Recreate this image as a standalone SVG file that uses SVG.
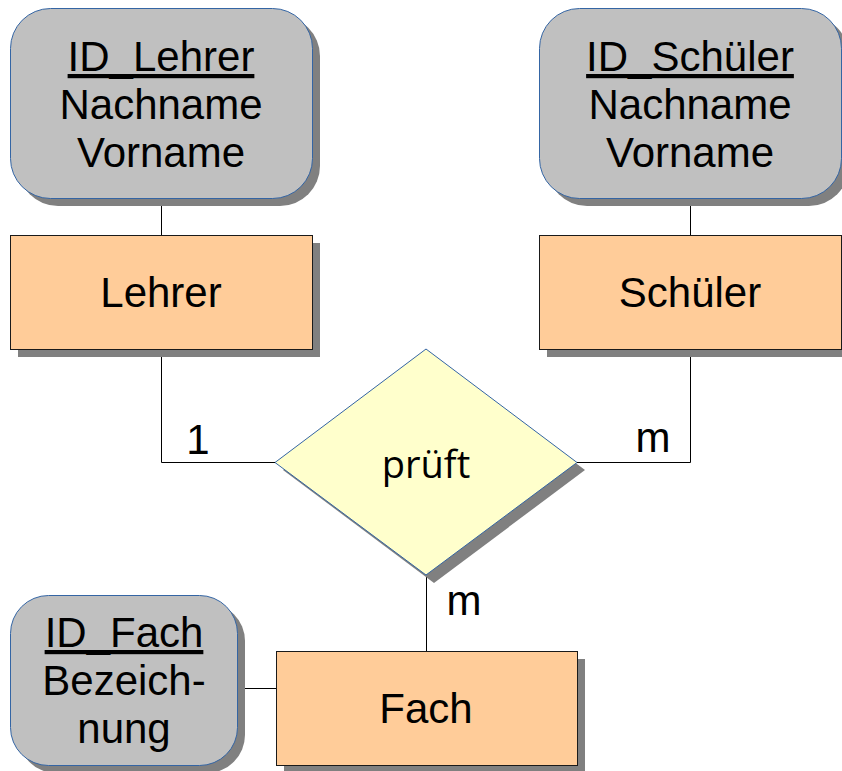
<svg xmlns="http://www.w3.org/2000/svg" width="842" height="771" viewBox="0 0 842 771">
<style>
.attr{fill:#c0c0c0;stroke:#3465a4;stroke-width:1}
.ent{fill:#ffcc99;stroke:#1a1a1a;stroke-width:1}
.rel{fill:#ffffcc;stroke:#3465a4;stroke-width:1}
.sh{fill:#808080;stroke:none}
.t{font-family:"Liberation Sans",Arial,sans-serif;font-size:42px;fill:#000;text-anchor:middle}
.u{text-decoration:underline}
.rt{font-family:"Open Sans","Noto Sans",sans-serif;font-size:38px;fill:#000;text-anchor:middle}
.c{fill:none;stroke:#000;stroke-width:1}
</style>
<g id="connectors">
<path class="c" d="M161.5 198V235"/>
<path class="c" d="M690.5 198V235"/>
<path class="c" d="M161.5 349V462.5H275"/>
<path class="c" d="M690.5 349V462.5H577"/>
<path class="c" d="M426.5 575V651"/>
<path class="c" d="M237 688.5H276"/>
<text class="t" x="198" y="454">1</text>
<text class="t" x="653" y="452">m</text>
<text class="t" x="464" y="615">m</text>
</g>
<g id="attr-lehrer">
<rect class="sh" x="18" y="16" width="302" height="190" rx="40"/>
<rect class="attr" x="10.5" y="8.5" width="302" height="190" rx="40"/>
<text class="t u" x="161" y="71">ID_Lehrer</text>
<text class="t" x="161" y="119">Nachname</text>
<text class="t" x="161" y="167">Vorname</text>
</g>
<g id="attr-schueler">
<rect class="sh" x="547" y="16" width="302" height="190" rx="40"/>
<rect class="attr" x="539.5" y="8.5" width="302" height="190" rx="40"/>
<text class="t u" x="690" y="71">ID_Schüler</text>
<text class="t" x="690" y="119">Nachname</text>
<text class="t" x="690" y="167">Vorname</text>
</g>
<g id="ent-lehrer">
<rect class="sh" x="18" y="243" width="302" height="114"/>
<rect class="ent" x="10.5" y="235.5" width="302" height="114"/>
<text class="t" x="161" y="307">Lehrer</text>
</g>
<g id="ent-schueler">
<rect class="sh" x="547" y="243" width="302" height="114"/>
<rect class="ent" x="539.5" y="235.5" width="302" height="114"/>
<text class="t" x="690" y="307">Schüler</text>
</g>
<g id="rel-prueft">
<polygon class="sh" points="434,357 585,470 434,583 283,470"/>
<polygon class="rel" points="426,349 577,462.5 426,575 275,462.5"/>
<text class="rt" x="426" y="478">prüft</text>
</g>
<g id="attr-fach">
<rect class="sh" x="18" y="603" width="227" height="170" rx="38"/>
<rect class="attr" x="10.5" y="595.5" width="227" height="170" rx="38"/>
<text class="t u" x="124" y="647">ID_Fach</text>
<text class="t" x="124" y="695">Bezeich-</text>
<text class="t" x="124" y="743">nung</text>
</g>
<g id="ent-fach">
<rect class="sh" x="284" y="659" width="301" height="114"/>
<rect class="ent" x="276.5" y="651.5" width="301" height="114"/>
<text class="t" x="426" y="723">Fach</text>
</g>
</svg>
